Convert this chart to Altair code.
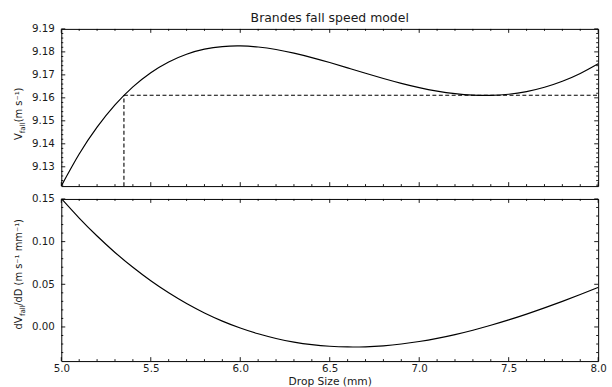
import altair as alt
import pandas as pd

# ---------------- data ----------------
chart_title = "Brandes fall speed model"
x_title = "Drop Size (mm)"
top_title_parts = ["V", "fall", " (m s\u207b\u00b9)"]
bottom_title_parts = ["dV", "fall", "/dD (m s\u207b\u00b9 mm\u207b\u00b9)"]

drop_size = [5.0, 5.1, 5.2, 5.3, 5.4, 5.5, 5.6, 5.7, 5.8, 5.9,
             6.0, 6.1, 6.2, 6.3, 6.4, 6.5, 6.6, 6.7, 6.8, 6.9,
             7.0, 7.1, 7.2, 7.3, 7.4, 7.5, 7.6, 7.7, 7.8, 7.9, 8.0]
v_fall = [9.12165, 9.13554, 9.14723, 9.15691, 9.16476, 9.17094, 9.17563, 9.17899,
          9.18117, 9.18232, 9.18259, 9.18211, 9.18103, 9.17946, 9.17753, 9.17536,
          9.17304, 9.17070, 9.16843, 9.16632, 9.16446, 9.16293, 9.16181, 9.16117,
          9.16107, 9.16157, 9.16273, 9.16460, 9.16722, 9.17061, 9.17483]
dv_dd = [0.15050, 0.12759, 0.10656, 0.08733, 0.06986, 0.05409, 0.03997, 0.02743,
         0.01641, 0.00688, -0.00125, -0.00801, -0.01347, -0.01769, -0.02072, -0.02261,
         -0.02343, -0.02323, -0.02207, -0.02000, -0.01708, -0.01338, -0.00893, -0.00381,
         0.00194, 0.00825, 0.01507, 0.02234, 0.03001, 0.03802, 0.04630]

threshold_d = [5.35]
threshold_v = [9.1611]

x_domain = [5.0, 8.0]
v_domain = [9.1216, 9.19]
dv_domain = [-0.04, 0.15]

x_major = [5.0, 5.5, 6.0, 6.5, 7.0, 7.5, 8.0]
v_major = [9.13, 9.14, 9.15, 9.16, 9.17, 9.18, 9.19]
dv_major = [0.00, 0.05, 0.10, 0.15]
x_minor = [round(5.0 + 0.1 * i, 2) for i in range(31) if i % 5]
v_minor = [round(9.122 + 0.002 * i, 3) for i in range(34) if round((9.122 + 0.002 * i) * 1000) % 10]
dv_minor = [round(-0.03 + 0.01 * i, 2) for i in range(18) if round((-0.03 + 0.01 * i) * 100) % 5]

# ---------------- styling ----------------
W = 543
H1 = 159
H2 = 164
FONT = "DejaVu Sans"
TXT = "#1a1a1a"
MAJ = 4
MIN = 2

x_scale = alt.Scale(domain=x_domain, nice=False, zero=False)
v_scale = alt.Scale(domain=v_domain, nice=False, zero=False)
dv_scale = alt.Scale(domain=dv_domain, nice=False, zero=False)

df = pd.DataFrame({"D": drop_size, "V": v_fall, "dV": dv_dd})


def y_axis(values):
    return alt.Axis(values=values, format=".2f", title=None, ticks=False, tickSize=0,
                    domain=False, grid=False, labelPadding=7, labelFontSize=10.4,
                    labelFont=FONT, labelColor=TXT, labelOverlap=False)


v_axis = y_axis(v_major)
dv_axis = y_axis(dv_major)
x_axis_bottom = alt.Axis(
    values=x_major, format=".1f", title=x_title, ticks=False, tickSize=0, domain=False,
    grid=False, labelPadding=3, labelFontSize=10.4, labelFont=FONT, labelColor=TXT,
    labelFlush=False, labelOverlap=False, titleFont=FONT, titleFontSize=10.8,
    titleFontWeight="normal", titleColor=TXT, titlePadding=1)


def x_tick_layers(values, length, height, axis):
    d = pd.DataFrame({"t": values})
    base = alt.Chart(d).mark_rule(color="black", strokeWidth=0.9)
    xe = alt.X("t:Q", scale=x_scale, axis=axis, title=None if axis is None else x_title)
    return [
        base.encode(x=xe, y=alt.value(0), y2=alt.value(length)),
        base.encode(x=xe, y=alt.value(height - length), y2=alt.value(height)),
    ]


def y_tick_layers(values, scale, length, axis):
    d = pd.DataFrame({"t": values})
    base = alt.Chart(d).mark_rule(color="black", strokeWidth=0.9)
    ye = alt.Y("t:Q", scale=scale, axis=axis)
    return [
        base.encode(y=ye, x=alt.value(0), x2=alt.value(length)),
        base.encode(y=ye, x=alt.value(W - length), x2=alt.value(W)),
    ]


def vtext(text, x, y, size):
    return alt.Chart(pd.DataFrame({"s": [text]})).mark_text(
        angle=270, align="left", baseline="alphabetic", fontSize=size, font=FONT, color=TXT
    ).encode(text="s:N", x=alt.value(x), y=alt.value(y))


# ---------------- top panel ----------------
line1 = alt.Chart(df).mark_line(color="black", strokeWidth=1.2, interpolate="natural", clip=True).encode(
    x=alt.X("D:Q", scale=x_scale, axis=None),
    y=alt.Y("V:Q", scale=v_scale, axis=v_axis),
)

hdf = pd.DataFrame({"d0": threshold_d, "d1": [x_domain[1]], "v": threshold_v})
hrule = alt.Chart(hdf).mark_rule(color="black", strokeWidth=1.1, strokeDash=[4, 2.5]).encode(
    x=alt.X("d0:Q", scale=x_scale, axis=None), x2="d1:Q",
    y=alt.Y("v:Q", scale=v_scale, axis=v_axis),
)
vdf = pd.DataFrame({"d": threshold_d, "v0": [v_domain[0]], "v1": threshold_v})
vrule = alt.Chart(vdf).mark_rule(color="black", strokeWidth=1.1, strokeDash=[4, 2.5]).encode(
    x=alt.X("d:Q", scale=x_scale, axis=None),
    y=alt.Y("v0:Q", scale=v_scale, axis=v_axis), y2="v1:Q",
)

title_mark = alt.Chart(pd.DataFrame({"s": [chart_title]})).mark_text(
    align="center", baseline="alphabetic", fontSize=12.6, font=FONT, color=TXT
).encode(text="s:N", x=alt.value(W / 2), y=alt.value(-7))

TX = -40
top_titles = [
    vtext(top_title_parts[0], TX, 112.5, 10),
    vtext(top_title_parts[1], TX + 3, 105.5, 7.2),
    vtext(top_title_parts[2], TX, 94.5, 10),
]

top = alt.layer(
    line1, hrule, vrule,
    *x_tick_layers(x_major, MAJ, H1, None), *x_tick_layers(x_minor, MIN, H1, None),
    *y_tick_layers(v_major, v_scale, MAJ, v_axis), *y_tick_layers(v_minor, v_scale, MIN, v_axis),
    *top_titles, title_mark,
).properties(width=W, height=H1)

# ---------------- bottom panel ----------------
line2 = alt.Chart(df).mark_line(color="black", strokeWidth=1.2, interpolate="natural", clip=True).encode(
    x=alt.X("D:Q", scale=x_scale, axis=x_axis_bottom),
    y=alt.Y("dV:Q", scale=dv_scale, axis=dv_axis),
)

bottom_titles = [
    vtext(bottom_title_parts[0], TX, 132, 10),
    vtext(bottom_title_parts[1], TX + 3, 118.5, 7.2),
    vtext(bottom_title_parts[2], TX, 108, 10),
]

bottom = alt.layer(
    line2,
    *x_tick_layers(x_major, MAJ, H2, x_axis_bottom), *x_tick_layers(x_minor, MIN, H2, x_axis_bottom),
    *y_tick_layers(dv_major, dv_scale, MAJ, dv_axis), *y_tick_layers(dv_minor, dv_scale, MIN, dv_axis),
    *bottom_titles,
).properties(width=W, height=H2)

chart = alt.vconcat(top, bottom, spacing=13, bounds="flush").properties(
    padding={"left": 13, "top": 9, "right": 5, "bottom": 0}
).configure_view(stroke="black", strokeWidth=1)

chart.save("out.html", embed_options={"renderer": "svg", "actions": False})
